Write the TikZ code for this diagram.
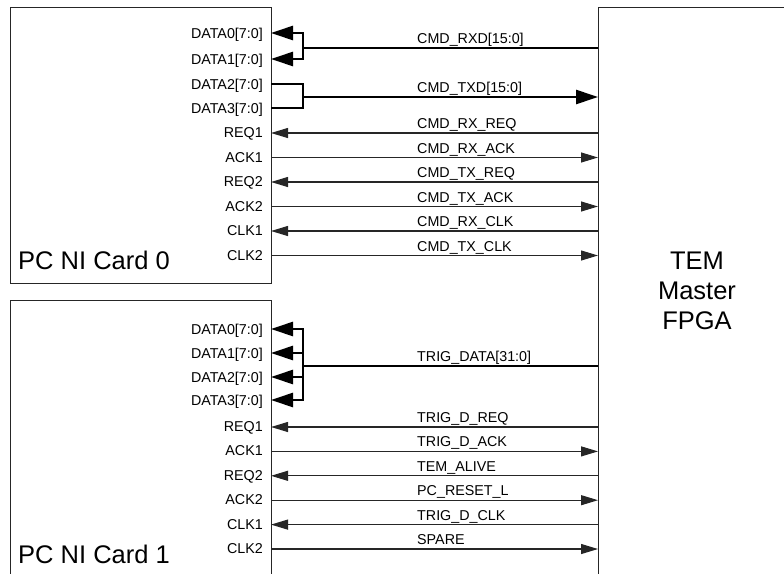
\documentclass[tikz,border=0pt]{standalone}
\usepackage{fontspec}
\setmainfont{Liberation Sans}
\usetikzlibrary{arrows.meta}

\newcommand\pinfont{\fontsize{14.3}{16}\selectfont}
\newcommand\namefont{\fontsize{25.5}{30}\selectfont}

\tikzset{
  box/.style={draw=black!85, line width=1.1pt, inner sep=0pt},
  sig/.style={draw=black!85, line width=1.1pt},
  bus/.style={draw=black, line width=2.6pt},
  tocard/.style={{Triangle[length=17pt,width=10pt]}-},
  tofpga/.style={-{Triangle[length=17pt,width=10pt]}},
  fattip/.style={-{Triangle[length=22pt,width=14pt]}},
  pin/.style={anchor=base east, font=\pinfont, inner sep=0pt},
  net/.style={anchor=base west, font=\pinfont, inner sep=0pt},
  title/.style={font=\namefont, inner sep=0pt},
}

\begin{document}
\begin{tikzpicture}[x=1pt, y=-1pt]
  \useasboundingbox (0,0) rectangle (784,573);
  \clip (0,0) rectangle (784,573);

  % blocks
  \node[box, anchor=north west, minimum width=261pt, minimum height=276pt] (card0) at (10,7) {};
  \node[box, anchor=north west, minimum width=261pt, minimum height=320pt] (card1) at (10,300) {};
  \node[box, anchor=north west, minimum width=260pt, minimum height=620pt] (fpga) at (598,7) {};
  \node[title, anchor=base west] (name0) at (18,269) {PC NI Card 0};
  \node[title, anchor=base west] (name1) at (18,563) {PC NI Card 1};
  \node[title, align=center] (fpganame) at (697,291) {TEM\\Master\\FPGA};

  % card 0 data pins
  \foreach \n/\y in {0/33, 1/59, 2/84, 3/108} {
    \coordinate (c0d\n) at (271,\y);
    \node[pin] (pin0d\n) at (263,\y+5) {DATA\n[7:0]};
  }
  \coordinate (rxdj) at (303,48);
  \coordinate (rxdf) at (598,48);
  \coordinate (txdj) at (303,97);
  \coordinate (txdf) at (598,97);
  \draw[bus] (rxdf) -- (rxdj);
  \draw[bus, fattip] (rxdj) |- (c0d0);
  \draw[bus, fattip] (rxdj) |- (c0d1);
  \draw[bus] (c0d2) -| (txdj);
  \draw[bus] (c0d3) -| (txdj);
  \draw[bus, fattip] (txdj) -- (txdf);
  \node[net] (rxdname) at (417,43.5) {CMD\_RXD[15:0]};
  \node[net] (txdname) at (417,92.5) {CMD\_TXD[15:0]};

  % card 0 handshake lines
  \foreach \pin/\net/\dir [count=\i from 0] in {REQ1/CMD\_RX\_REQ/tocard, ACK1/CMD\_RX\_ACK/tofpga,
      REQ2/CMD\_TX\_REQ/tocard, ACK2/CMD\_TX\_ACK/tofpga, CLK1/CMD\_RX\_CLK/tocard, CLK2/CMD\_TX\_CLK/tofpga} {
    \coordinate (c0p\i) at (271,133+24.5*\i);
    \coordinate (f0p\i) at (598,133+24.5*\i);
    \node[pin] (pin0p\i) at (263,137.5+24.5*\i) {\pin};
    \node[net] (net0p\i) at (417,128.5+24.5*\i) {\net};
    \draw[sig, \dir] (c0p\i) -- (f0p\i);
  }

  % card 1 data pins
  \foreach \n/\y in {0/329, 1/353, 2/377, 3/400} {
    \coordinate (c1d\n) at (271,\y);
    \node[pin] (pin1d\n) at (263,\y+5) {DATA\n[7:0]};
  }
  \coordinate (trigj) at (303,366);
  \coordinate (trigf) at (598,366);
  \draw[bus] (trigf) -- (trigj);
  \foreach \n in {0,...,3}
    \draw[bus, fattip] (trigj) |- (c1d\n);
  \node[net] (trigname) at (417,361.5) {TRIG\_DATA[31:0]};

  % card 1 handshake lines
  \foreach \pin/\net/\dir [count=\i from 0] in {REQ1/TRIG\_D\_REQ/tocard, ACK1/TRIG\_D\_ACK/tofpga,
      REQ2/TEM\_ALIVE/tocard, ACK2/PC\_RESET\_L/tofpga, CLK1/TRIG\_D\_CLK/tocard, CLK2/SPARE/tofpga} {
    \coordinate (c1p\i) at (271,427+24.4*\i);
    \coordinate (f1p\i) at (598,427+24.4*\i);
    \node[pin] (pin1p\i) at (263,431.5+24.4*\i) {\pin};
    \node[net] (net1p\i) at (417,422.5+24.4*\i) {\net};
    \draw[sig, \dir] (c1p\i) -- (f1p\i);
  }
\end{tikzpicture}
\end{document}
